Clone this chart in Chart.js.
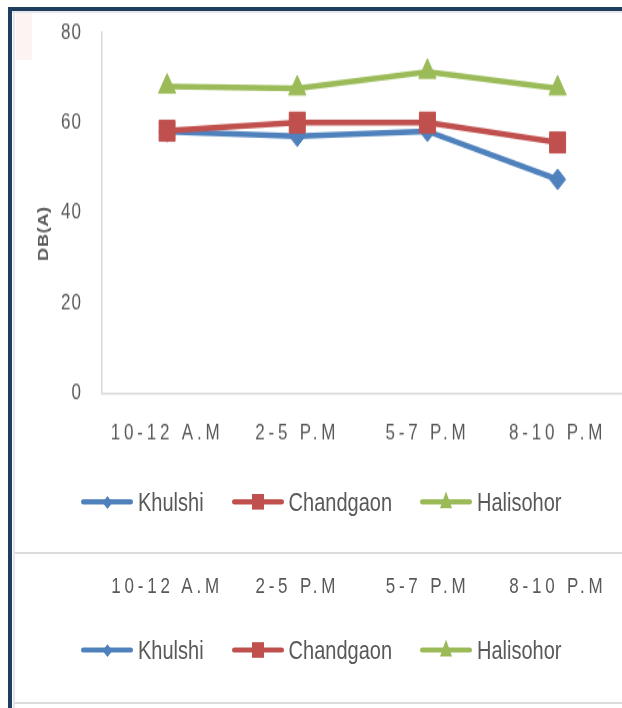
<!DOCTYPE html>
<html>
<head>
<meta charset="utf-8">
<title>Noise level DB(A)</title>
<script src="https://cdn.jsdelivr.net/npm/chart.js"></script>
<style>
  html, body { margin: 0; padding: 0; background: #fff; width: 622px; height: 708px; overflow: hidden; }
  body { position: relative; font-family: "Liberation Sans", Arial, sans-serif; color: #595959; }

  /* frame pieces of the original screenshot */
  .navy-top { position: absolute; left: 8px; top: 7px; width: 620px; height: 4px; background: #1f3d5c; }
  .navy-left { position: absolute; left: 8px; top: 7px; width: 4px; height: 701px; background: #1f3d5c; }
  .gray-top { position: absolute; left: 12px; top: 11px; width: 616px; height: 2px; background: #e3e6ea; }
  .gray-left { position: absolute; left: 13px; top: 11px; width: 2px; height: 697px; background: #e3e6ea; }
  .sep { position: absolute; left: 14px; width: 614px; height: 2px; background: #dcdcdc; }
  .pink { position: absolute; left: 16px; top: 13px; width: 16px; height: 47px; background: #fcf3f3; }

  /* everything of the chart is stretched vertically like the picture */
  #stretch { position: absolute; left: 0; top: 0; width: 640px; height: 545px; transform: scaleY(1.3); transform-origin: 0 0; }
  #chartBox { position: absolute; left: 0; top: 0; width: 635px; height: 371px; }

  .xlabels { position: absolute; left: 102px; width: 521px; display: flex; }
  .xlabels span { flex: 1; text-align: center; font-size: 17px; letter-spacing: 3.8px; white-space: pre; }

  .legend { position: absolute; left: 81px; display: flex; gap: 28px; height: 24px; }
  .item { display: flex; align-items: center; height: 24px; font-size: 20px; }
  .swatch { position: relative; width: 52px; height: 24px; margin-right: 5px; }
  .swatch .ln { position: absolute; left: 0; right: 0; top: 10px; height: 4px; border-radius: 2px; }
  .swatch .mk { position: absolute; }
  .mk.rectRot { width: 7px; height: 7px; left: 22.5px; top: 8.5px; transform: rotate(45deg); }
  .mk.rect { width: 12px; height: 12px; left: 20px; top: 6px; }
  .mk.triangle { width: 0; height: 0; left: 20px; top: 4px; border-left: 6px solid transparent; border-right: 6px solid transparent; border-bottom: 13px solid; background: none !important; }
</style>
</head>
<body>
<div id="stretch">
  <div id="chartBox"><canvas id="noiseChart"></canvas></div>
  <div class="legend" id="legendTop" style="top:374px"></div>
  <div class="xlabels" id="labelsBottom" style="top:441px"></div>
  <div class="legend" id="legendBottom" style="top:488px"></div>
</div>

<div class="pink"></div>
<div class="navy-top"></div>
<div class="gray-top"></div>
<div class="gray-left"></div>
<div class="navy-left"></div>
<div class="sep" style="top:552px"></div>
<div class="sep" style="top:702px"></div>

<script>
// -------------------------
// Data
// -------------------------
const TIME_SLOTS = ["10-12 A.M", "2-5 P.M", "5-7 P.M", "8-10 P.M"];
const SERIES_NAMES = ["Khulshi", "Chandgaon", "Halisohor"];
const KHULSHI = [58.0, 57.0, 58.1, 47.4];
const CHANDGAON = [58.2, 60.0, 60.0, 55.6];
const HALISOHOR = [68.0, 67.6, 71.3, 67.6];
const Y_TICKS = [0, 20, 40, 60, 80];

// styles
const COLORS = ["#4f81bd", "#c0504d", "#9bbb59"];
const MARKERS = ["rectRot", "rect", "triangle"];
const MARKER_RADIUS = [8, 11.3, 10];
const TEXT_GRAY = "#595959";
const AXIS_GRAY = "#d9d9d9";
const FONT = '"Liberation Sans", Arial, sans-serif';

// -------------------------
// Chart
// -------------------------
// Letter spacing per piece of axis text (the original labels are spread wide)
const spacingPlugin = {
  id: 'spacing',
  afterLayout(chart) {
    const wrap = (scale, fn, spacing, dy) => {
      const key = '_sp_' + fn;
      if (scale[key]) return;
      const orig = scale[fn];
      scale[fn] = function (...args) {
        const ctx = this.ctx;
        ctx.save();
        ctx.letterSpacing = spacing;
        if (dy) ctx.translate(0, dy);
        orig.apply(this, args);
        ctx.restore();
      };
      scale[key] = true;
    };
    wrap(chart.scales.x, 'drawLabels', '3.8px', 0);
    wrap(chart.scales.y, 'drawLabels', '1px', 0);
    wrap(chart.scales.y, 'drawTitle', '0.5px', 16);
  }
};

const seriesValues = [KHULSHI, CHANDGAON, HALISOHOR];

const datasets = SERIES_NAMES.map((name, i) => ({
  label: name,
  data: seriesValues[i],
  borderColor: COLORS[i],
  backgroundColor: COLORS[i],
  borderWidth: 4.5,
  pointStyle: MARKERS[i],
  pointRadius: MARKER_RADIUS[i],
  pointBorderWidth: 1,
  pointBorderColor: COLORS[i],
  pointBackgroundColor: COLORS[i],
  tension: 0,
  order: i === 0 ? 1 : 0 // red squares sit over the blue line
}));

new Chart(document.getElementById('noiseChart'), {
  type: 'line',
  data: { labels: TIME_SLOTS, datasets },
  plugins: [spacingPlugin],
  options: {
    responsive: true,
    maintainAspectRatio: false,
    animation: false,
    layout: { padding: { top: 25, left: 0, right: 0, bottom: 6.7 } },
    plugins: { legend: { display: false }, tooltip: { enabled: false } },
    scales: {
      x: {
        type: 'category',
        offset: true,
        grid: { display: false, drawTicks: false },
        border: { display: true, color: AXIS_GRAY, width: 1.5 },
        ticks: { color: TEXT_GRAY, padding: 20.8, maxRotation: 0, autoSkip: false, font: { family: FONT, size: 17 } }
      },
      y: {
        min: 0,
        max: 80,
        afterBuildTicks: (axis) => { axis.ticks = Y_TICKS.map(v => ({ value: v })); },
        afterFit: (axis) => {
          axis.width = 102;
          // the tick padding is meant horizontally only
          axis.paddingTop = 0;
          axis.paddingBottom = 0;
        },
        grid: { display: false, drawTicks: false },
        border: { display: true, color: AXIS_GRAY, width: 1.5 },
        ticks: { color: TEXT_GRAY, padding: 20, font: { family: FONT, size: 17 } },
        title: {
          display: true,
          text: 'DB(A)',
          color: TEXT_GRAY,
          font: { family: FONT, size: 14, weight: 'bold' },
          padding: { top: 35.6, bottom: 0 }
        }
      }
    }
  }
});

// -------------------------
// Legends + repeated labels (HTML)
// -------------------------
function buildLegend(el) {
  SERIES_NAMES.forEach((name, i) => {
    const item = document.createElement('div');
    item.className = 'item';
    item.innerHTML = `
      <span class="swatch">
        <span class="ln" style="background:${COLORS[i]}"></span>
        <span class="mk ${MARKERS[i]}" style="background:${COLORS[i]};border-bottom-color:${COLORS[i]}"></span>
      </span>
      <span>${name}</span>`;
    el.appendChild(item);
  });
}

buildLegend(document.getElementById('legendTop'));
buildLegend(document.getElementById('legendBottom'));

const labelsBottom = document.getElementById('labelsBottom');
TIME_SLOTS.forEach(t => {
  const s = document.createElement('span');
  s.textContent = t;
  labelsBottom.appendChild(s);
});
</script>
</body>
</html>
